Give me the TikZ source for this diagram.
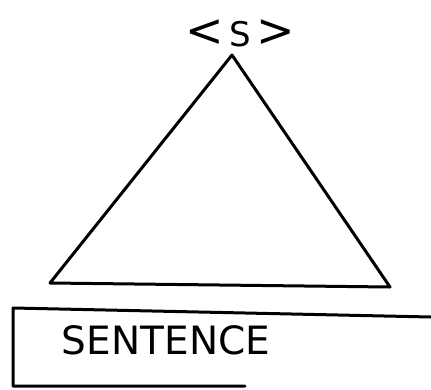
\documentclass[tikz,border=0pt]{standalone}
\usepackage{fontspec}
\setmainfont{DejaVu Sans}
\begin{document}
\begin{tikzpicture}[x=1pt,y=-1pt,
  ink/.style={line width=3pt,line cap=round,line join=round,black},
  lbl/.style={inner sep=0pt,font=\fontsize{34}{34}\selectfont}]
\useasboundingbox (0,0) rectangle (431,389);
% triangle
\coordinate (apex) at (232,55);
\coordinate (bl) at (50,283);
\coordinate (br) at (390,287);
\draw[ink] (apex) -- (bl) -- (br) -- cycle;
\node[lbl,anchor=south] (root) at (240,47) {{\fontsize{46}{46}\selectfont<}\,S\,{\fontsize{46}{46}\selectfont>}};
% box
\coordinate (tl) at (13,308);
\coordinate (tr) at (431,317);
\coordinate (blb) at (13,386);
\coordinate (brb) at (245,386);
\draw[ink] (tr) -- (tl) -- (blb) -- (brb);
\node[lbl,font=\fontsize{39}{39}\selectfont] (sent) at (166,340) {SENTENCE};
\end{tikzpicture}
\end{document}
